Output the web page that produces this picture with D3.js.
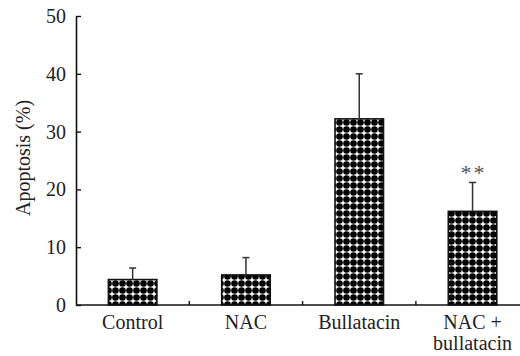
<!DOCTYPE html>
<html>
<head>
<meta charset="utf-8">
<script src="https://cdn.jsdelivr.net/npm/d3@7"></script>
<style>
  html, body { margin: 0; padding: 0; background: #fff; }
  svg { display: block; }
  text { font-family: "Liberation Serif", "DejaVu Serif", serif; fill: #222; }
</style>
</head>
<body>
<svg id="chart" width="520" height="356"></svg>
<script>
// Apoptosis rate per treatment group (mean and upper error)
const groups = ["Control", "NAC", "Bullatacin", "NAC + bullatacin"];
const labelLines = [["Control"], ["NAC"], ["Bullatacin"], ["NAC +", "bullatacin"]];
const means = [4.4, 5.2, 32.2, 16.2];
const upperErrors = [6.4, 8.2, 40.0, 21.2];
const significance = ["", "", "", "**"];
const yTicks = [0, 10, 20, 30, 40, 50];

const svg = d3.select("#chart");
const plotLeft = 76, plotBottom = 305, plotTop = 16;
const fontSize = 20;

const x = d3.scaleBand().domain(groups).range([plotLeft, plotLeft + 4 * 113.3]).paddingInner(0).paddingOuter(0);
const y = d3.scaleLinear().domain([0, 50]).range([plotBottom, plotTop]);
const barW = 48.5;

// Fill pattern: black dots on a square grid
const defs = svg.append("defs");
const pat = defs.append("pattern")
  .attr("id", "dots").attr("patternUnits", "userSpaceOnUse")
  .attr("width", 7).attr("height", 7);
pat.append("rect").attr("width", 7).attr("height", 7).attr("fill", "#fff");
pat.append("circle").attr("cx", 3.5).attr("cy", 3.5).attr("r", 3.3).attr("fill", "#000");

// Bars
svg.selectAll("rect.bar").data(groups).join("rect")
  .attr("class", "bar")
  .attr("x", d => x(d) + x.bandwidth() / 2 - barW / 2)
  .attr("y", (d, i) => y(means[i]))
  .attr("width", barW)
  .attr("height", (d, i) => y(0) - y(means[i]))
  .attr("fill", "url(#dots)")
  .attr("stroke", "#111").attr("stroke-width", 1.6);

// Upper error bars
const eb = svg.append("g").attr("stroke", "#333").attr("stroke-width", 1.5);
groups.forEach((g, i) => {
  const cx = x(g) + x.bandwidth() / 2;
  eb.append("line").attr("x1", cx).attr("x2", cx).attr("y1", y(means[i])).attr("y2", y(upperErrors[i]));
  eb.append("line").attr("x1", cx - 3.5).attr("x2", cx + 3.5).attr("y1", y(upperErrors[i])).attr("y2", y(upperErrors[i]));
});

// Significance marks
svg.selectAll("text.sig").data(groups).join("text")
  .attr("class", "sig")
  .attr("x", d => x(d) + x.bandwidth() / 2 + 1)
  .attr("y", (d, i) => y(upperErrors[i]) - 2)
  .attr("text-anchor", "middle")
  .attr("font-size", 22)
  .attr("letter-spacing", 2)
  .style("fill", "#555")
  .text((d, i) => significance[i]);

// Y axis (ticks pointing inward)
const yAxis = svg.append("g").attr("transform", `translate(${plotLeft},0)`)
  .call(d3.axisLeft(y).tickValues(yTicks).tickSize(-5).tickPadding(10).tickSizeOuter(0));
yAxis.attr("font-size", fontSize).attr("font-family", "Liberation Serif, serif");
yAxis.select(".domain").attr("stroke", "#111").attr("stroke-width", 1.6);
yAxis.selectAll(".tick line").attr("stroke", "#111").attr("stroke-width", 1.4);
yAxis.selectAll(".tick text").style("fill", "#222");

// X axis: baseline with inward ticks at group boundaries
const xg = svg.append("g");
xg.append("line").attr("x1", plotLeft).attr("x2", 520).attr("y1", plotBottom).attr("y2", plotBottom)
  .attr("stroke", "#111").attr("stroke-width", 1.6);
groups.slice(1).forEach(g => {
  xg.append("line").attr("x1", x(g)).attr("x2", x(g)).attr("y1", plotBottom).attr("y2", plotBottom - 4)
    .attr("stroke", "#111").attr("stroke-width", 1.4);
});

// Category labels
groups.forEach((g, i) => {
  const t = svg.append("text")
    .attr("x", x(g) + x.bandwidth() / 2)
    .attr("y", 329)
    .attr("text-anchor", "middle")
    .attr("font-size", fontSize);
  labelLines[i].forEach((line, k) => {
    t.append("tspan").attr("x", x(g) + x.bandwidth() / 2).attr("dy", k === 0 ? 0 : 21).text(line);
  });
});

// Y axis title
svg.append("text")
  .attr("transform", "translate(30,158) rotate(-90)")
  .attr("text-anchor", "middle")
  .attr("font-size", fontSize)
  .text("Apoptosis (%)");
</script>
</body>
</html>
